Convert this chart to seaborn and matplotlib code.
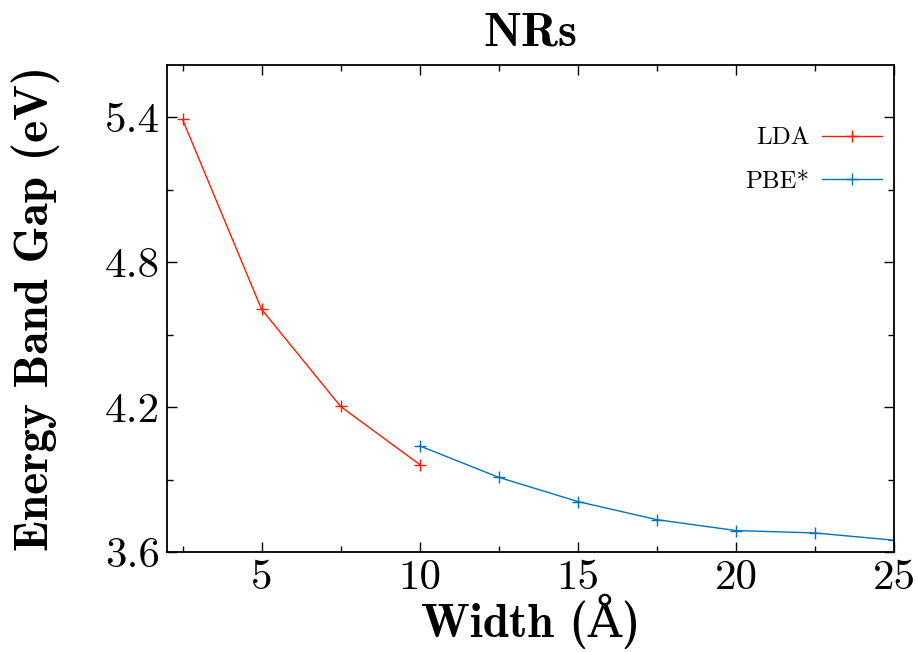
import pandas as pd
import matplotlib.pyplot as plt
from matplotlib.ticker import MultipleLocator
import seaborn as sns

# Band gap against ribbon width
lda_width = [2.5, 5, 7.5, 10]
lda_gap = [5.39, 4.605, 4.203, 3.963]
pbe_width = [10, 12.5, 15, 17.5, 20, 22.5, 25]
pbe_gap = [4.04, 3.91, 3.81, 3.735, 3.69, 3.68, 3.65]

dados = pd.concat([
    pd.DataFrame({'width': lda_width, 'gap': lda_gap, 'metodo': 'LDA'}),
    pd.DataFrame({'width': pbe_width, 'gap': pbe_gap, 'metodo': 'PBE*'}),
])
cores = {'LDA': '#ff1a00', 'PBE*': '#0072bd'}

sns.set_style('ticks')
plt.rcParams['font.family'] = ['cmr10', 'DejaVu Serif']
plt.rcParams['axes.formatter.use_mathtext'] = True
plt.rcParams['mathtext.fontset'] = 'cm'
for k in ['text.color', 'axes.labelcolor', 'xtick.color', 'ytick.color', 'axes.edgecolor']:
    plt.rcParams[k] = 'black'

fig = plt.figure(figsize=(9.18, 6.52), dpi=100)
ax = fig.add_axes([0.1816, 0.1529, 0.9739 - 0.1816, 0.9003 - 0.1529])

sns.lineplot(data=dados, x='width', y='gap', hue='metodo', palette=cores,
             marker='+', markersize=8, markeredgewidth=1.0,
             linewidth=1.0, ax=ax)
# '+' markers come out white with seaborn's default edge colour
for ln in ax.lines:
    ln.set_markeredgecolor(ln.get_color())

ax.set_xlim(2, 25)
ax.set_ylim(3.6, 5.615)
ax.xaxis.set_major_locator(MultipleLocator(5))
ax.xaxis.set_minor_locator(MultipleLocator(2.5))
ax.yaxis.set_major_locator(MultipleLocator(0.6))
ax.yaxis.set_minor_locator(MultipleLocator(0.3))
ax.xaxis.set_major_formatter(plt.FuncFormatter(lambda v, p: f'{v:g}'))
ax.yaxis.set_major_formatter(plt.FuncFormatter(lambda v, p: f'{v:.1f}'))
ax.tick_params(which='both', direction='in', top=True, right=True, width=1.0, colors='black')
ax.tick_params(which='major', length=7, labelsize=31, pad=5)
ax.tick_params(which='minor', length=4)
for s in ax.spines.values():
    s.set_linewidth(1.3)

lab = dict(family=['cmb10', 'DejaVu Serif'], fontsize=34, color='black')
ax.set_xlabel('Width (Å)', labelpad=-2, **lab)
ax.set_ylabel('Energy Band Gap (eV)', labelpad=32, **lab)
ax.set_title('NRs', pad=14, fontsize=35, family=lab['family'])

leg = ax.legend(loc='upper right', bbox_to_anchor=(0.9835, 0.873), frameon=False,
                borderpad=0, borderaxespad=0, markerfirst=False,
                handlelength=2.4, handletextpad=0.5, fontsize=18, labelspacing=0.85)
for h in leg.legend_handles:
    h.set_markeredgecolor(h.get_color())

fig.savefig('out.png', dpi=100)
